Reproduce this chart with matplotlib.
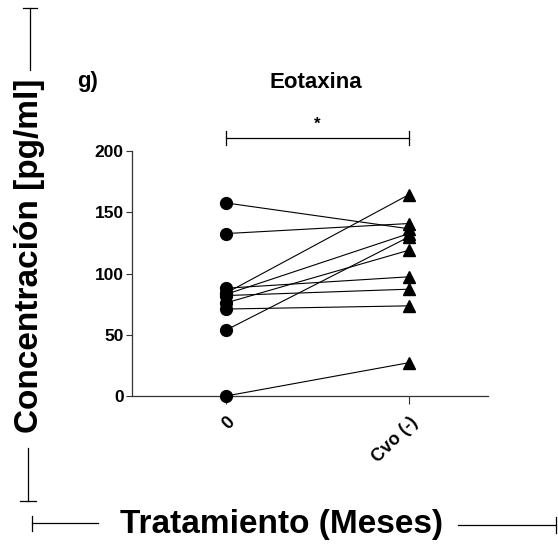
import matplotlib
matplotlib.use("Agg")
import matplotlib.pyplot as plt
from matplotlib.lines import Line2D

plt.rcParams['font.family'] = ['Liberation Sans', 'DejaVu Sans']
plt.rcParams['font.weight'] = 'bold'

# Eotaxina por paciente, antes y después del tratamiento
groups = ['0', 'Cvo (-)']
basal = [157.6, 132.6, 0.0, 53.8, 84.0, 83.0, 88.0, 82.0, 76.0, 71.0]
final = [136.5, 140.8, 27.2, 129.9, 164.4, 132.6, 97.3, 87.2, 119.0, 73.6]

W, H = 558, 552
fig = plt.figure(figsize=(W / 100, H / 100), dpi=100)
ax = fig.add_axes([132 / W, 1 - 396 / H, (488 - 132) / W, (396 - 151) / H])

for a, b in zip(basal, final):
    ax.plot([0, 1], [a, b], color='black', lw=0.8, zorder=2)
ax.plot([0] * len(basal), basal, 'o', color='black', ms=8.5, clip_on=False, zorder=3)
ax.plot([1] * len(final), final, '^', color='black', ms=8.5, clip_on=False, zorder=3)

ax.set_xlim(-0.514, 1.432)
ax.set_ylim(0, 200)
ax.set_yticks([0, 50, 100, 150, 200])
ax.set_xticks([0, 1])
ax.set_xticklabels(groups, rotation=45, ha='right', va='top',
                   rotation_mode='anchor', fontsize=13, fontweight='bold')
ax.tick_params(axis='y', labelsize=12.5, length=4, width=0.8, pad=2, color='#333333')
ax.tick_params(axis='x', length=6, width=0.8, pad=7, color='#333333')
for lbl in ax.get_yticklabels():
    lbl.set_fontweight('bold')

ax.spines['top'].set_visible(False)
ax.spines['right'].set_visible(False)
for s in ('left', 'bottom'):
    ax.spines[s].set_linewidth(0.9)
    ax.spines[s].set_color('#333333')

# barra de significancia
ax.plot([0, 1], [210.4, 210.4], color='black', lw=0.9, clip_on=False)
for xc in (0, 1):
    ax.plot([xc, xc], [204.7, 216.1], color='black', lw=0.9, clip_on=False)
ax.text(0.5, 222, '*', ha='center', va='center', fontsize=12, fontweight='bold')

fig.text(316 / W, 1 - 82 / H, 'Eotaxina', ha='center', va='center', fontsize=16, fontweight='bold')
fig.text(77 / W, 1 - 82 / H, 'g)', ha='left', va='center', fontsize=16, fontweight='bold')

fig.text(30 / W, 1 - 256 / H, 'Concentración [pg/ml]', rotation=90,
         ha='center', va='center', fontsize=24, fontweight='bold')
fig.text(282 / W, 1 - 525 / H, 'Tratamiento (Meses)',
         ha='center', va='center', fontsize=24, fontweight='bold')


def fline(xs, ys):
    fig.add_artist(Line2D([x / W for x in xs], [1 - y / H for y in ys],
                          color='black', lw=0.9))


# marcas de los títulos de ejes
fline([30, 30], [8, 70])
fline([23, 37], [8, 8])
fline([28, 28], [448, 501])
fline([20, 36], [501, 501])
fline([32, 98], [523, 523])
fline([32, 32], [516, 531])
fline([458, 556], [525, 525])
fline([556, 556], [517, 533])

fig.savefig('out.png', dpi=100)
